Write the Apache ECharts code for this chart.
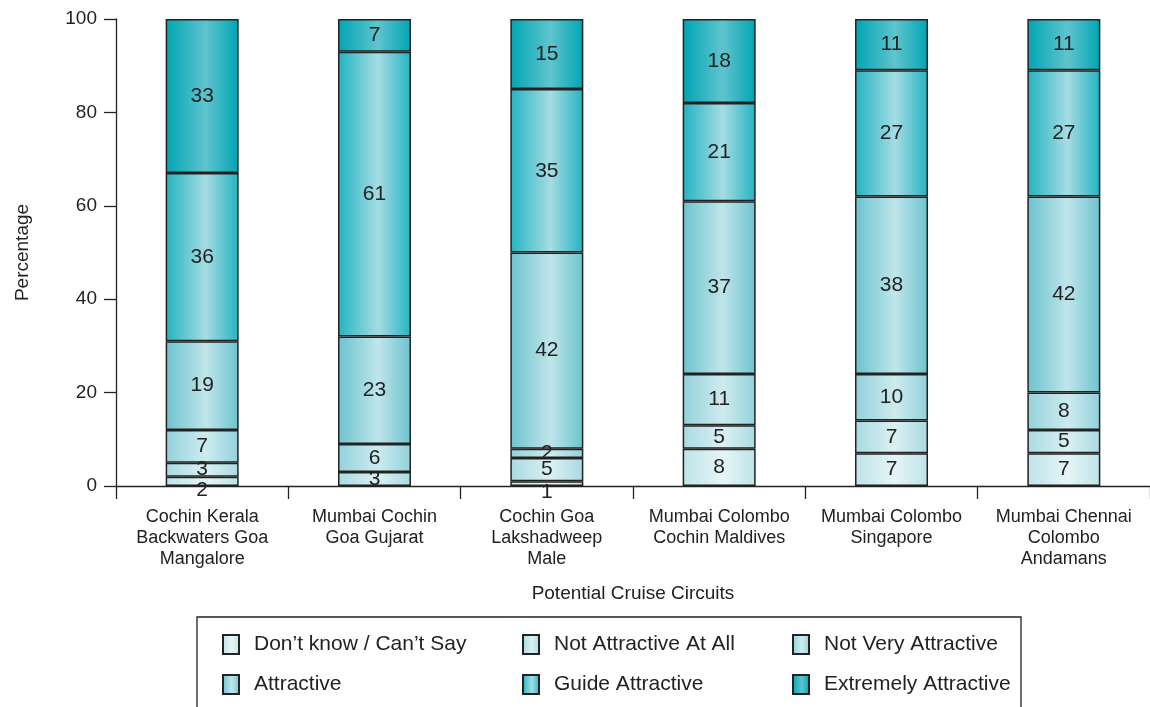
<!DOCTYPE html>
<html>
<head>
<meta charset="utf-8">
<script src="https://cdn.jsdelivr.net/npm/echarts@6/dist/echarts.min.js"></script>
<style>
  html, body { margin: 0; padding: 0; background: #fff; }
  #chart { width: 1150px; height: 707px; }
</style>
</head>
<body>
<div id="chart"></div>
<script>
const categories = [
  'Cochin Kerala\nBackwaters Goa\nMangalore',
  'Mumbai Cochin\nGoa Gujarat',
  'Cochin Goa\nLakshadweep\nMale',
  'Mumbai Colombo\nCochin Maldives',
  'Mumbai Colombo\nSingapore',
  'Mumbai Chennai\nColombo\nAndamans'
];
const seriesNames = [
  'Don\u2019t know / Can\u2019t Say',
  'Not Attractive At All',
  'Not Very Attractive',
  'Attractive',
  'Guide Attractive',
  'Extremely Attractive'
];
const dontKnow = [2, 0, 1, 8, 7, 7];
const notAtAll = [3, 3, 5, 5, 7, 5];
const notVery = [7, 6, 2, 11, 10, 8];
const attractive = [19, 23, 42, 37, 38, 42];
const guide = [36, 61, 35, 21, 27, 27];
const extremely = [33, 7, 15, 18, 11, 11];
const yTicks = [0, 20, 40, 60, 80, 100];

const values = [dontKnow, notAtAll, notVery, attractive, guide, extremely];
// edge / centre colours of the striped gradient
const palette = [
  ['#bde3e8', '#e6f5f7'],
  ['#a8dae1', '#dbf0f3'],
  ['#92d1da', '#cdebef'],
  ['#6cc3ce', '#bfe5ea'],
  ['#22b3c1', '#a6dce3'],
  ['#00a5b3', '#5fc4ce']
];

function fill(c) {
  return new echarts.graphic.LinearGradient(0, 0, 1, 0, [
    { offset: 0, color: c[0] },
    { offset: 0.55, color: c[1] },
    { offset: 1, color: c[0] }
  ]);
}

const font = 'Liberation Sans, Arial, Helvetica, sans-serif';

const series = seriesNames.map((name, i) => ({
  name: name,
  type: 'bar',
  stack: 'total',
  barWidth: 73,
  itemStyle: { color: fill(palette[i]), borderColor: '#222', borderWidth: 1.5 },
  label: {
    show: true,
    position: 'inside',
    fontFamily: font,
    fontSize: 21,
    color: '#222',
    formatter: p => (p.value > 0 ? p.value : '')
  },
  data: values[i].map(v => (v > 0 && v < 3 && i === 0 ? { value: v, label: { offset: [0, 9] } } : v))
}));

function legendCol(names, left) {
  return {
    orient: 'vertical',
    left: left,
    top: 629,
    itemWidth: 16,
    itemHeight: 19,
    itemGap: 19,
    icon: 'rect',
    data: names,
    textStyle: { fontFamily: font, fontSize: 21, color: '#222', padding: [0, 0, 0, 10] }
  };
}

const chart = echarts.init(document.getElementById('chart'));
chart.setOption({
  animation: false,
  backgroundColor: '#fff',
  grid: { left: 116, top: 19, right: -5, bottom: 221 },
  legend: [
    legendCol([seriesNames[0], seriesNames[3]], 217),
    legendCol([seriesNames[1], seriesNames[4]], 517),
    legendCol([seriesNames[2], seriesNames[5]], 787)
  ],
  graphic: [{
    type: 'rect',
    shape: { x: 197, y: 617, width: 824, height: 100 },
    style: { fill: 'none', stroke: '#222', lineWidth: 1.3 },
    silent: true
  }],
  xAxis: {
    type: 'category',
    data: categories,
    name: 'Potential Cruise Circuits',
    nameLocation: 'middle',
    nameGap: 98,
    nameTextStyle: { fontFamily: font, fontSize: 19, color: '#222' },
    axisLine: { lineStyle: { color: '#222', width: 1.3 } },
    axisTick: { show: true, length: 13, lineStyle: { color: '#222', width: 1.3 } },
    axisLabel: { fontFamily: font, fontSize: 18, color: '#222', lineHeight: 21, margin: 21, interval: 0 }
  },
  yAxis: {
    type: 'value',
    min: yTicks[0],
    max: yTicks[yTicks.length - 1],
    interval: yTicks[1] - yTicks[0],
    name: 'Percentage',
    nameLocation: 'middle',
    nameGap: 84,
    nameTextStyle: { fontFamily: font, fontSize: 19, color: '#222' },
    splitLine: { show: false },
    axisLine: { show: true, lineStyle: { color: '#222', width: 1.3 } },
    axisTick: { show: true, length: 12, lineStyle: { color: '#222', width: 1.3 } },
    axisLabel: { fontFamily: font, fontSize: 19, color: '#222', margin: 19 }
  },
  series: series
});
</script>
</body>
</html>
